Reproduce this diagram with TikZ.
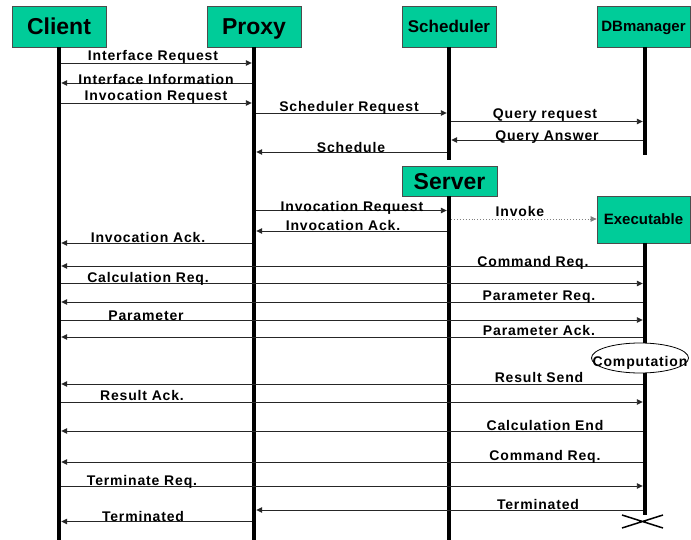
\documentclass[tikz,border=0pt]{standalone}
\usepackage{fontspec}
\setmainfont{Liberation Sans}
\newfontfamily\lblfont[LetterSpace=6]{Liberation Sans}
\usetikzlibrary{arrows.meta,shapes.geometric}
\definecolor{boxgreen}{RGB}{0,204,153}
\begin{document}
\begin{tikzpicture}[x=1pt,y=-1pt,
  hdr/.style={draw=black!70, line width=0.8pt, fill=boxgreen, inner sep=0, text depth=0pt, font=\bfseries},
  life/.style={line width=4.5pt},
  msg/.style={draw=black!85, line width=0.9pt, -{Triangle[length=6pt,width=5.5pt]}, shorten >=2.2pt, shorten <=2.2pt},
  lbl/.style={anchor=base, inner sep=0, font=\lblfont\bfseries\fontsize{14}{16}\selectfont},
  big/.style={font=\bfseries\fontsize{23}{26}\selectfont},
  mid/.style={font=\bfseries\fontsize{17}{20}\selectfont},
  small/.style={font=\bfseries\fontsize{15}{18}\selectfont}]
\useasboundingbox (0,0) rectangle (691,540);
% header boxes
\node[hdr,big,minimum width=94,minimum height=41] (client) at (59,26.5) {Client};
\node[hdr,big,minimum width=94,minimum height=41] (proxy) at (254,26.5) {Proxy};
\node[hdr,mid,minimum width=94,minimum height=41] (sched) at (449,26.5) {Scheduler};
\node[hdr,small,minimum width=93,minimum height=41] (dbm) at (643.5,26.5) {DBmanager};
\node[hdr,big,minimum width=95,minimum height=30] (server) at (449.5,181) {Server};
\node[hdr,small,minimum width=93,minimum height=47] (exec) at (643.5,219.5) {Executable};
% lifeline coordinates
\coordinate (clientTop) at (59,47);   \coordinate (clientEnd) at (59,540);
\coordinate (proxyTop) at (254,47);   \coordinate (proxyEnd) at (254,540);
\coordinate (schedTop) at (449,47);   \coordinate (schedEnd) at (449,160);
\coordinate (dbmTop) at (645,47);     \coordinate (dbmEnd) at (645,155);
\coordinate (serverTop) at (449,196); \coordinate (serverEnd) at (449,540);
\coordinate (execTop) at (645,243);   \coordinate (execEnd) at (645,515);
% lifelines
\draw[life] (clientTop) -- (clientEnd);
\draw[life] (proxyTop) -- (proxyEnd);
\draw[life] (schedTop) -- (schedEnd);
\draw[life] (dbmTop) -- (dbmEnd);
\draw[life] (serverTop) -- (serverEnd);
\draw[life] (execTop) -- (execEnd);
% termination cross
\coordinate (xa) at (622,515); \coordinate (xb) at (663,528);
\coordinate (xc) at (622,528); \coordinate (xd) at (663,515);
\draw[line width=1.5pt] (xa) -- (xb) (xc) -- (xd);
% messages
\draw[msg] (clientTop |- 0,63) -- (proxyTop |- 0,63);
\draw[msg] (proxyTop |- 0,83) -- (clientTop |- 0,83);
\draw[msg] (clientTop |- 0,103) -- (proxyTop |- 0,103);
\draw[msg] (proxyTop |- 0,113) -- (schedTop |- 0,113);
\draw[msg] (schedTop |- 0,121.5) -- (dbmTop |- 0,121.5);
\draw[msg] (dbmTop |- 0,140) -- (schedTop |- 0,140);
\draw[msg] (schedTop |- 0,152) -- (proxyTop |- 0,152);
\draw[msg] (proxyTop |- 0,210.5) -- (serverTop |- 0,210.5);
\draw[msg, draw=black!50, dotted, shorten >=0pt] (serverTop |- 0,219) -- (exec.west |- 0,219);
\draw[msg] (serverTop |- 0,231) -- (proxyTop |- 0,231);
\draw[msg] (proxyTop |- 0,243) -- (clientTop |- 0,243);
\draw[msg] (execTop |- 0,266) -- (clientTop |- 0,266);
\draw[msg] (clientTop |- 0,283.5) -- (execTop |- 0,283.5);
\draw[msg] (execTop |- 0,302) -- (clientTop |- 0,302);
\draw[msg] (clientTop |- 0,320) -- (execTop |- 0,320);
\draw[msg] (execTop |- 0,337) -- (clientTop |- 0,337);
\draw[msg] (execTop |- 0,384) -- (clientTop |- 0,384);
\draw[msg] (clientTop |- 0,402) -- (execTop |- 0,402);
\draw[msg] (execTop |- 0,431) -- (clientTop |- 0,431);
\draw[msg] (execTop |- 0,462) -- (clientTop |- 0,462);
\draw[msg] (clientTop |- 0,486) -- (execTop |- 0,486);
\draw[msg] (execTop |- 0,510) -- (proxyTop |- 0,510);
\draw[msg] (proxyTop |- 0,521.5) -- (clientTop |- 0,521.5);
% computation
\node[draw, ellipse, fill=white, line width=0.8pt, minimum width=97, minimum height=30, inner sep=0] (comp) at (640,358) {};
\node[lbl] (compt) at (640,366) {Computation};
% labels
\node[lbl] (l1) at (153,61) {Interface Request};
\node[lbl] (l2) at (156,85) {Interface Information};
\node[lbl] (l3) at (156,101) {Invocation Request};
\node[lbl] (l4) at (349,111.5) {Scheduler Request};
\node[lbl] (l5) at (545,119) {Query request};
\node[lbl] (l6) at (547,140.5) {Query Answer};
\node[lbl] (l7) at (351,152.5) {Schedule};
\node[lbl] (l8) at (352,212) {Invocation Request};
\node[lbl] (l9) at (520,217) {Invoke};
\node[lbl] (l10) at (343,231) {Invocation Ack.};
\node[lbl] (l11) at (148,242.5) {Invocation Ack.};
\node[lbl] (l12) at (533,266) {Command Req.};
\node[lbl] (l13) at (148,282.5) {Calculation Req.};
\node[lbl] (l14) at (539,300.5) {Parameter Req.};
\node[lbl] (l15) at (146,320) {Parameter};
\node[lbl] (l16) at (539,335) {Parameter Ack.};
\node[lbl] (l17) at (539,382.5) {Result Send};
\node[lbl] (l18) at (142,400.5) {Result Ack.};
\node[lbl] (l19) at (545,430) {Calculation End};
\node[lbl] (l20) at (545,460.5) {Command Req.};
\node[lbl] (l21) at (142,485) {Terminate Req.};
\node[lbl] (l22) at (538,509) {Terminated};
\node[lbl] (l23) at (143,521.5) {Terminated};
\end{tikzpicture}
\end{document}
